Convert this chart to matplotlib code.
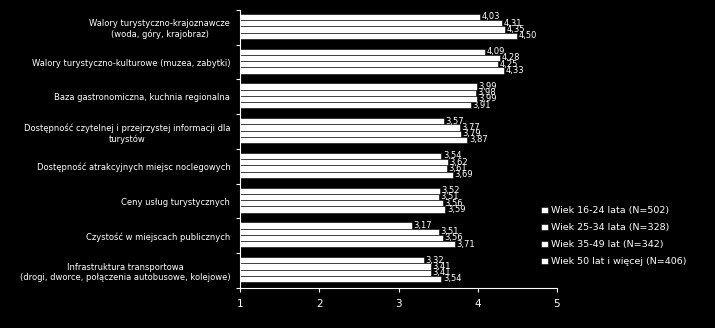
import numpy as np
import matplotlib
matplotlib.use("Agg")
import matplotlib.pyplot as plt

categories = [
    "Walory turystyczno-krajoznawcze\n(woda, góry, krajobraz)",
    "Walory turystyczno-kulturowe (muzea, zabytki)",
    "Baza gastronomiczna, kuchnia regionalna",
    "Dostępność czytelnej i przejrzystej informacji dla\nturystów",
    "Dostępność atrakcyjnych miejsc noclegowych",
    "Ceny usług turystycznych",
    "Czystość w miejscach publicznych",
    "Infrastruktura transportowa\n(drogi, dworce, połączenia autobusowe, kolejowe)",
]

series_names = [
    "Wiek 16-24 lata (N=502)",
    "Wiek 25-34 lata (N=328)",
    "Wiek 35-49 lat (N=342)",
    "Wiek 50 lat i więcej (N=406)",
]

age_16_24 = [4.03, 4.09, 3.99, 3.57, 3.54, 3.52, 3.17, 3.32]
age_25_34 = [4.31, 4.28, 3.98, 3.77, 3.62, 3.51, 3.51, 3.41]
age_35_49 = [4.35, 4.25, 3.99, 3.79, 3.61, 3.56, 3.56, 3.41]
age_50_plus = [4.50, 4.33, 3.91, 3.87, 3.69, 3.59, 3.71, 3.54]

series = [age_16_24, age_25_34, age_35_49, age_50_plus]

plt.rcParams["font.family"] = ["DejaVu Sans"]

fig = plt.figure(figsize=(7.15, 3.28), dpi=100, facecolor="black")
ax = fig.add_axes([0.3357, 0.122, 0.4433, 0.8475], facecolor="black")

y = np.arange(len(categories))
h = 0.18
for k, vals in enumerate(series):
    pos = y + (k - 1.5) * h - 0.03
    ax.barh(pos, np.array(vals) - 1, left=1, height=h, color="white",
            edgecolor="black", linewidth=0.4, label=series_names[k])
    for p, v in zip(pos, vals):
        ax.text(v + 0.02, p, f"{v:.2f}".replace(".", ","), color="white",
                fontsize=6, va="center", ha="left")

ax.set_xlim(1, 5)
ax.set_ylim(len(categories) - 0.5, -0.5)
ax.set_xticks([1, 2, 3, 4, 5])
ax.tick_params(axis="x", colors="white", labelsize=7.5, length=3, width=0.8, pad=5)
# group boundaries carry the tick marks, names sit on the minor ticks
ax.set_yticks(np.arange(len(categories) + 1) - 0.5, minor=False)
ax.set_yticklabels([])
ax.tick_params(axis="y", colors="white", length=3, width=0.8)
ax.set_yticks(y, minor=True)
ax.set_yticklabels(categories, minor=True, fontsize=6, color="white")
ax.tick_params(axis="y", which="minor", length=0, pad=7)
for lbl in ax.get_yticklabels(minor=True):
    lbl.set_multialignment("center")

for side in ["top", "right"]:
    ax.spines[side].set_visible(False)
for side in ["left", "bottom"]:
    ax.spines[side].set_color("white")
    ax.spines[side].set_linewidth(0.8)

leg = fig.legend(loc="upper left", bbox_to_anchor=(0.752, 0.383), frameon=False,
                 fontsize=6.8, labelcolor="white", handlelength=0.7, handleheight=0.7,
                 handletextpad=0.3, labelspacing=0.85, borderaxespad=0)

fig.savefig("out.png", dpi=100, facecolor="black")
